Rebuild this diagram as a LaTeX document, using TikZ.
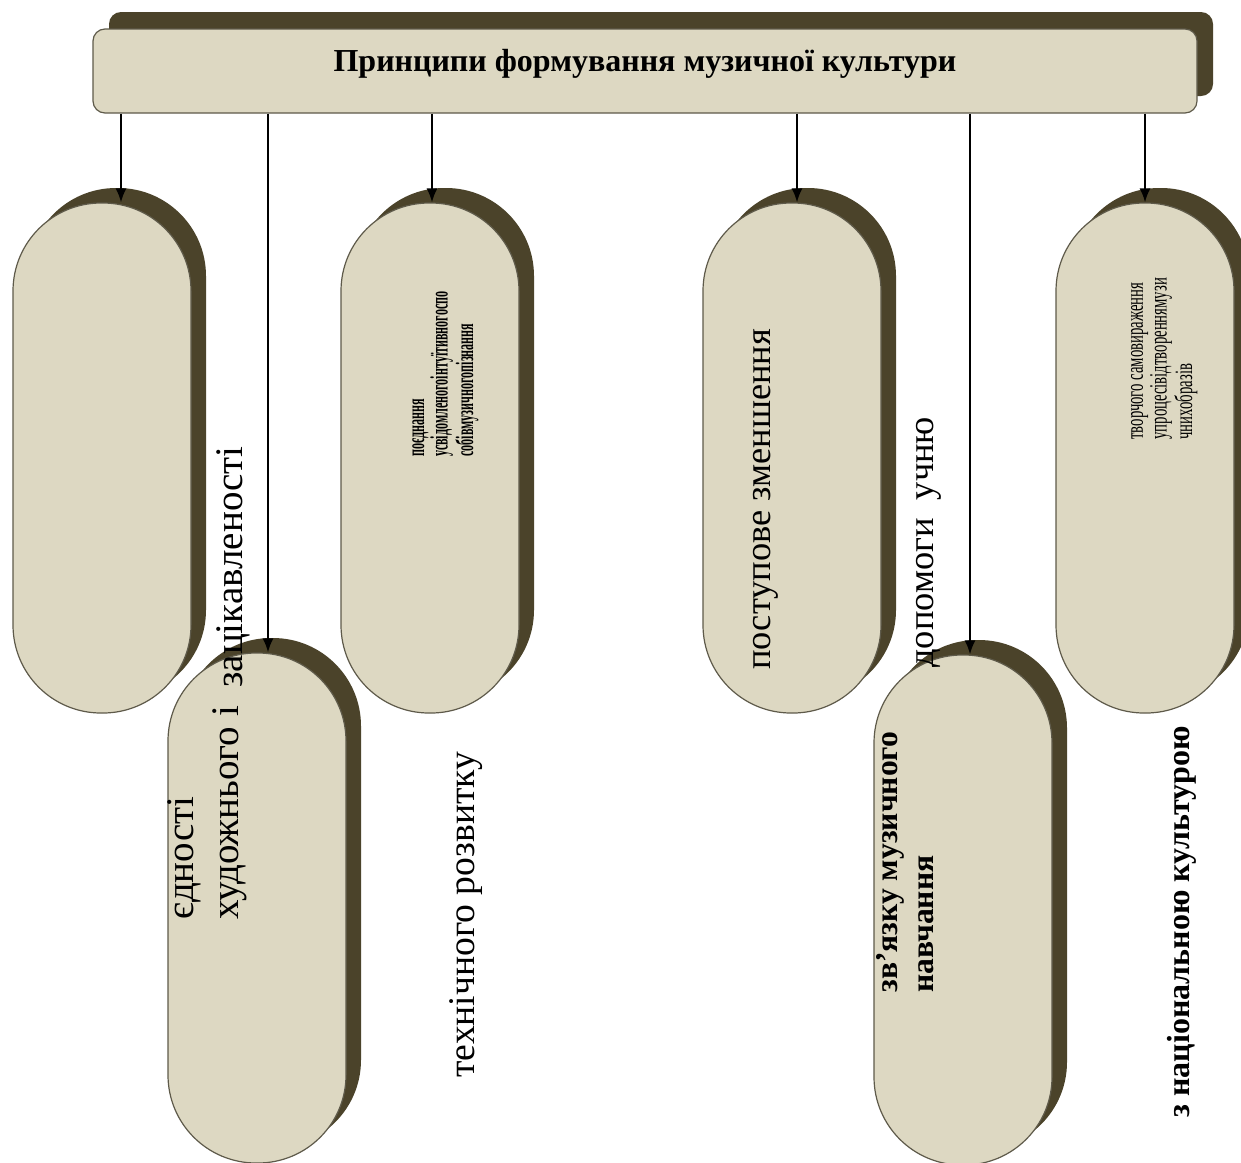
\documentclass[tikz,border=0pt]{standalone}
\usepackage{fontspec}
\setmainfont{Liberation Serif}
\newfontfamily\narrowfont[FakeStretch=0.484]{Liberation Serif}
\newfontfamily\slimfont[FakeStretch=0.59]{Liberation Serif}
\usetikzlibrary{arrows.meta,shadows}
\definecolor{panelc}{HTML}{DDD8C2}
\definecolor{shadec}{HTML}{4B432A}
\definecolor{rimc}{HTML}{5E5A4A}
\begin{document}
\begin{tikzpicture}[x=0.5pt,y=-0.5pt,
    pill/.style={draw=rimc,line width=0.6pt,fill=panelc,minimum width=89pt,minimum height=255pt,
      rounded corners=44pt,inner sep=0pt,general shadow={shadow xshift=7.5pt,shadow yshift=7.5pt,fill=shadec}},
    topbar/.style={draw=rimc,line width=0.6pt,fill=panelc,minimum width=552pt,minimum height=42pt,
      rounded corners=6pt,general shadow={shadow xshift=8pt,shadow yshift=8.5pt,fill=shadec},
      font=\fontsize{16}{19}\selectfont\bfseries,text height=11pt,text depth=11pt},
    link/.style={-{Latex[length=7pt,width=5.5pt]},line width=1pt},
    vtext/.style={rotate=90,anchor=base west,inner sep=0pt,font=\fontsize{#1}{22}\selectfont},
    vtext/.default=19.5,
    vbold/.style={rotate=90,anchor=base west,inner sep=0pt,font=\fontsize{#1}{19}\selectfont\bfseries},
    vbold/.default=16,
    smallblock/.style={rotate=90,anchor=base west,align=left,inner sep=0pt}]
    \useasboundingbox (0,0) rectangle (1241,1162);

    \node[topbar] (bar) at (645,71) {Принципи формування музичної культури};

    \node[pill] (c1) at (102,458) {};
    \node[pill] (c3) at (430,458) {};
    \node[pill] (c4) at (792,458) {};
    \node[pill] (c6) at (1145,458) {};
    \node[pill] (c2) at (257,908) {};
    \node[pill] (c5) at (963,910) {};

    \draw[link] ([xshift=9.5pt]c1.north |- bar.south) -- ([xshift=9.5pt]c1.north);
    \draw[link] ([xshift=5.5pt]c2.north |- bar.south) -- ([xshift=5.5pt]c2.north);
    \draw[link] ([xshift=1pt]c3.north |- bar.south) -- ([xshift=1pt]c3.north);
    \draw[link] ([xshift=2.5pt]c4.north |- bar.south) -- ([xshift=2.5pt]c4.north);
    \draw[link] ([xshift=3.5pt]c5.north |- bar.south) -- ([xshift=3.5pt]c5.north);
    \draw[link] (c6.north |- bar.south) -- (c6.north);

    \node[vtext] (u1) at (193,920) {єдності};
    \node[vtext] (u2) at (238,920) {художнього і};
    \node[vtext] (u3) at (242,688) {зацікавленості};
    \node[vtext=18.8] (u4) at (474,1078) {технічного розвитку};
    \node[vtext=18.2] (u5) at (770,670) {поступове зменшення};
    \node[vtext=18.2] (u6) at (933,668) {допомоги\ \ учню};
    \node[vbold=15.8] (u7) at (897,993) {зв’язку музичного};
    \node[vbold=15.8] (u8) at (933,993) {навчання};
    \node[vbold] (u9) at (1189,1118) {з національною культурою};

    \node[smallblock,font=\narrowfont\bfseries\fontsize{12.5}{10}\selectfont] (s3) at (473,457)
        {поєднання\\усвідомленогоінтуїтивногоспо\\собівмузичногопізнання};
    \node[smallblock,font=\slimfont\fontsize{12.5}{10.5}\selectfont] (s6) at (1192,440)
        {творчого самовираження\\упроцесівідтвореннямузи\\чнихобразів};
\end{tikzpicture}
\end{document}
